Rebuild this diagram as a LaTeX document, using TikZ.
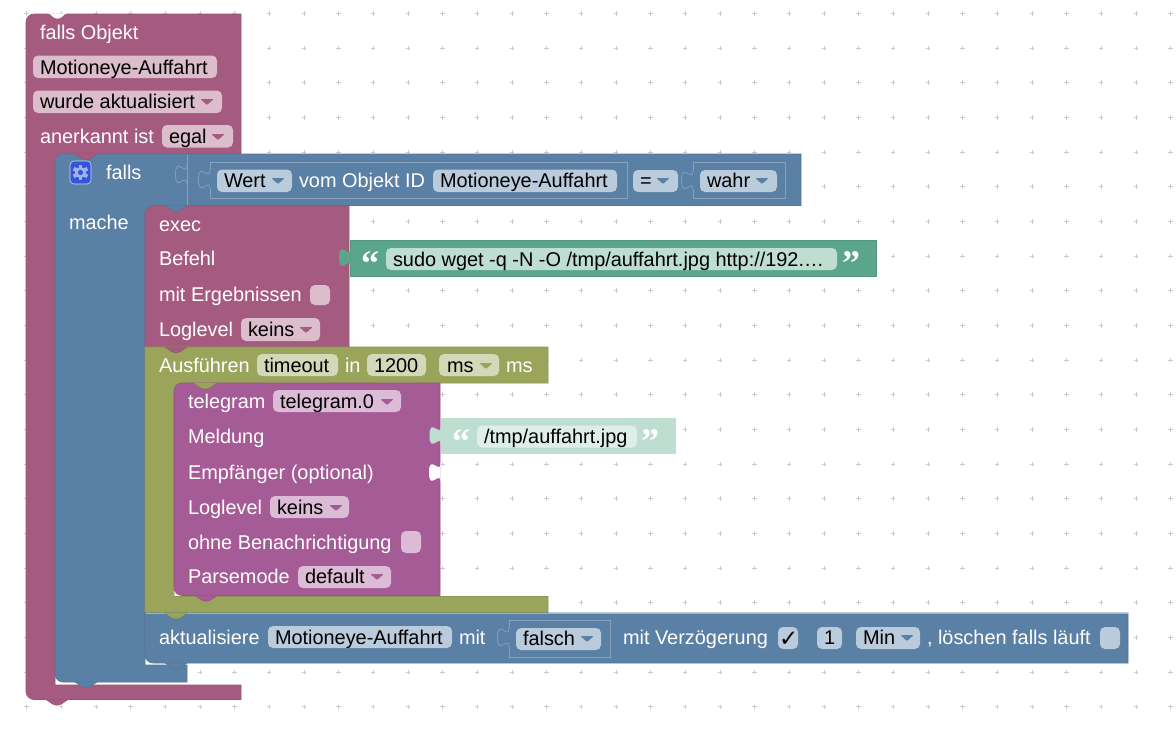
\documentclass[tikz,border=0pt]{standalone}
\usepackage{fontspec}
\setmainfont{Liberation Sans}
\newfontfamily\dejavu{DejaVu Sans}
\newfontfamily\quotefont{Liberation Serif}
\definecolor{pinkB}{HTML}{A55B80}
\definecolor{blueB}{HTML}{5B80A5}
\definecolor{oliveB}{HTML}{9AA55B}
\definecolor{purpB}{HTML}{A55B96}
\definecolor{greenB}{HTML}{5BA58C}
\definecolor{mintB}{HTML}{BEDED2}
\definecolor{pinkF}{HTML}{DBBDCC}
\definecolor{blueF}{HTML}{BACBDC}
\definecolor{oliveF}{HTML}{D3D8B8}
\definecolor{purpF}{HTML}{DBBBD5}
\definecolor{greenF}{HTML}{BEDED2}
\definecolor{mintF}{HTML}{DEEEE8}
\definecolor{gridc}{HTML}{CCCCCC}
\definecolor{iconB}{HTML}{3355DD}
\definecolor{iconG}{HTML}{A0B0E8}
\tikzset{
  lbl/.style={anchor=base west,inner sep=0pt,outer sep=0pt,white,font=\fontsize{19.9}{24}\selectfont},
  val/.style={lbl,black},
  qmark/.style={anchor=base west,inner sep=0pt,outer sep=0pt,white,font=\quotefont\bfseries\fontsize{36}{36}\selectfont},
  blockshape/.style={fill=#1,draw=#1!92!black,line width=0.6pt},
  outline/.style={draw=#1,line width=0.8pt}
}
% field box
\newcommand{\fld}[5]{\fill[#5,rounded corners=5pt] (#1,#3) rectangle (#2,#4);}
% dropdown arrow
\newcommand{\arw}[3]{\fill[#3,rounded corners=0.8pt] (#1-6.5,#2-2.8) -- (#1+6.5,#2-2.8) -- (#1,#2+3) -- cycle;}
% notch or bottom tab: x left, y edge
\newcommand{\ntch}[3]{\path[fill=#3,draw=#3!90!black,line width=0.5pt,rounded corners=1.5pt] (#1,#2) -- (#1+8,#2+5.5) -- (#1+14,#2+5.5) -- (#1+22,#2);}
\newcommand{\ntchw}[2]{\fill[white,rounded corners=1.5pt] (#1,#2-0.6) -- (#1+1,#2-0.6) -- (#1+7,#2+4.5) -- (#1+12,#2+4.5) -- (#1+18,#2-0.6) -- (#1+19,#2-0.6) -- cycle;}
% puzzle tab on left edge: x edge, y top
\newcommand{\puz}[3]{\fill[#3] (#1,#2) .. controls (#1,#2+12.7) and (#1-11.5,#2-10) .. (#1-11.5,#2+9.5) .. controls (#1-11.5,#2+29) and (#1,#2+6.3) .. (#1,#2+19) -- cycle;}
\newcommand{\puzl}[3]{\draw[#3,line width=0.8pt] (#1,#2) .. controls (#1,#2+12.7) and (#1-11.5,#2-10) .. (#1-11.5,#2+9.5) .. controls (#1-11.5,#2+29) and (#1,#2+6.3) .. (#1,#2+19);}
\begin{document}
\begin{tikzpicture}[x=1pt,y=-1pt]
\fill[white] (0,0) rectangle (1176,736);
\useasboundingbox (0,0) rectangle (1176,736);
% grid
\foreach \i in {0,...,33}{\foreach \j in {0,...,20}{
  \draw[gridc,line width=0.6pt] ({26.5+34.67*\i-2.2},{13.3+34.67*\j}) -- +(4.4,0) ({26.5+34.67*\i},{13.3+34.67*\j-2.2}) -- +(0,4.4);
}}
% main trigger block
\path[blockshape=pinkB] (26,22) arc[start angle=180,end angle=270,radius=8] -- (241,14) -- (241,154) -- (63,154)
  arc[start angle=-90,end angle=-180,radius=8] -- (55,685) -- (241,685) -- (241,699.5) -- (34,699.5)
  arc[start angle=90,end angle=180,radius=8] -- cycle;
\ntchw{48}{14}
\ntch{46}{699.5}{pinkB}
% falls block
\path[blockshape=blueB] (55,162) arc[start angle=180,end angle=270,radius=8] -- (801,154) -- (801,205.5) -- (153,205.5)
  arc[start angle=-90,end angle=-180,radius=8] -- (145,665) -- (187,665) -- (187,682) -- (63,682)
  arc[start angle=90,end angle=180,radius=8] -- cycle;
\ntch{75}{154}{pinkB}
\ntch{75}{682}{blueB}
\draw[blueF!45!blueB,line width=0.8pt] (187.5,154.5) -- (187.5,205);
\puzl{187}{165}{blueF!40!blueB}
\puzl{210}{170}{blueF!40!blueB}
\draw[outline=blueF!45!blueB] (210,170) -- (210,162) -- (627,162) -- (627,198.5) -- (210,198.5) -- (210,189);
\puzl{693}{171}{blueF!40!blueB}
\draw[outline=blueF!45!blueB] (693,171) -- (693,162) -- (785,162) -- (785,198.5) -- (693,198.5) -- (693,190);
% exec block
\path[blockshape=pinkB] (145,214) arc[start angle=180,end angle=270,radius=8] -- (349,206) -- (349,347) -- (145,347) -- cycle;
\ntch{165}{205.5}{blueB}
% execute-in block
\path[blockshape=oliveB] (145,347) -- (548,347) -- (548,383) -- (182,383)
  arc[start angle=-90,end angle=-180,radius=8] -- (174,596.5) -- (548,596.5) -- (548,613) -- (145,613) -- cycle;
\ntch{165}{347}{pinkB}
% telegram block
\path[blockshape=purpB] (174,391) arc[start angle=180,end angle=270,radius=8] -- (440,383) -- (440,595.5) -- (182,595.5)
  arc[start angle=90,end angle=180,radius=8] -- cycle;
\ntch{194}{383}{oliveB}
\ntch{195}{595.5}{purpB}
% empty input cut-out on telegram
\puz{440.5}{463}{white}
% update block
\path[blockshape=blueB] (145,613) -- (1128,613) -- (1128,663) -- (153,663)
  arc[start angle=90,end angle=180,radius=8] -- cycle;
\draw[blueF!70!blueB,line width=0.7pt] (145.5,613.5) -- (1128,613.5);
\ntch{165}{613}{oliveB}
\ntch{165}{663}{blueB}
\puzl{509}{628}{blueF!40!blueB}
\draw[outline=blueF!45!blueB] (509,628) -- (509,620.5) -- (610.5,620.5) -- (610.5,657) -- (509,657) -- (509,647);
% string blocks
\path[blockshape=greenB] (350,240.5) -- (876,240.5) -- (876,276) -- (350,276) -- cycle;
\puz{350.5}{248}{greenB}
\path[fill=mintB] (440.5,418) -- (676,418) -- (676,454) -- (440.5,454) -- cycle;
\puz{441}{426}{mintB}
% gear icon
\draw[white!70!blueB,fill=iconB,rounded corners=4pt,line width=0.6pt] (70,161) rectangle (91,184);
\fill[iconG] (80.5,172.5) circle (5.6);
\foreach \a in {0,60,...,300}{\fill[iconG,rotate around={\a:(80.5,172.5)}] (78.6,164.6) rectangle (82.4,168);}
\fill[iconB] (80.5,172.5) circle (2.6);
% fields
\fld{33}{217}{55.5}{78}{pinkF}
\fld{33}{222}{90.5}{113}{pinkF}
\fld{162}{233}{125}{147.5}{pinkF}
\fld{217}{292}{169.5}{192}{blueF}
\fld{433}{617}{169.5}{192}{blueF}
\fld{633}{678}{170}{192}{blueF}
\fld{700}{777}{170}{192}{blueF}
\fld{386}{837}{248}{270}{greenF}
\fld{310}{330}{285}{305}{pinkF}
\fld{241}{320}{318}{341}{pinkF}
\fld{257}{338}{354}{376}{oliveF}
\fld{367}{426}{354}{376}{oliveF}
\fld{439}{499}{354}{376}{oliveF}
\fld{273}{401}{390}{412}{purpF}
\fld{270}{349}{496}{518}{purpF}
\fld{401}{421}{531}{553}{purpF}
\fld{298}{391}{566}{588}{purpF}
\fld{477}{637}{425.5}{447.5}{mintF}
\fld{268}{452}{626}{648}{blueF}
\fld{516}{601}{628}{650}{blueF}
\fld{778}{798}{627}{649}{blueF}
\fld{817}{842}{627}{649}{blueF}
\fld{856}{920}{627}{649}{blueF}
\fld{1100}{1120}{627}{649}{blueF}
% dropdown arrows
\arw{207}{102}{pinkB}
\arw{218}{137}{pinkB}
\arw{278}{181}{blueB}
\arw{663}{181}{blueB}
\arw{762}{181}{blueB}
\arw{306}{330}{pinkB}
\arw{486}{366}{oliveB}
\arw{387}{402}{purpB}
\arw{336}{508}{purpB}
\arw{377}{577}{purpB}
\arw{587}{639}{blueB}
\arw{907}{638}{blueB}
% texts
\node[lbl] (t1) at (40,39) {falls Objekt};
\node[val] (t2) at (40,74) {Motioneye-Auffahrt};
\node[val] (t3) at (40,108.5) {wurde aktualisiert};
\node[lbl] (t4) at (40,143) {anerkannt ist};
\node[val] (t5) at (169,143) {egal};
\node[lbl] (t6) at (106,179) {falls};
\node[lbl] (t7) at (69,229) {mache};
\node[val] (t8) at (224,187) {Wert};
\node[lbl] (t9) at (299,187) {vom Objekt ID};
\node[val] (t10) at (440,187) {Motioneye-Auffahrt};
\node[val] (t11) at (640,187) {=};
\node[val] (t12) at (707,187) {wahr};
\node[lbl] (t13) at (159,231) {exec};
\node[lbl] (t14) at (159,265) {Befehl};
\node[lbl] (t15) at (159,301) {mit Ergebnissen};
\node[lbl] (t16) at (159,336) {Loglevel};
\node[val] (t17) at (248,336) {keins};
\node[qmark] (q1) at (361,275) {“};
\node[val] (t18) at (393,266) {sudo wget -q -N -O /tmp/auffahrt.jpg http://192.…};
\node[qmark] (q2) at (842,275) {”};
\node[lbl] (t19) at (159,372) {Ausführen};
\node[val] (t20) at (264,372) {timeout};
\node[lbl] (t21) at (345,372) {in};
\node[val] (t22) at (374,372) {1200};
\node[val] (t23) at (447,372) {ms};
\node[lbl] (t24) at (506,372) {ms};
\node[lbl] (t25) at (188,408) {telegram};
\node[val] (t26) at (280,408) {telegram.0};
\node[lbl] (t27) at (188,443) {Meldung};
\node[lbl] (t28) at (188,479) {Empfänger (optional)};
\node[lbl] (t29) at (188,514) {Loglevel};
\node[val] (t30) at (277,514) {keins};
\node[lbl] (t31) at (188,549) {ohne Benachrichtigung};
\node[lbl] (t32) at (188,583) {Parsemode};
\node[val] (t33) at (305,583) {default};
\node[qmark] (q3) at (452,453) {“};
\node[val] (t34) at (484,443) {/tmp/auffahrt.jpg};
\node[qmark] (q4) at (641,453) {”};
\node[lbl] (t35) at (159,644) {aktualisiere};
\node[val] (t36) at (275,644) {Motioneye-Auffahrt};
\node[lbl] (t37) at (459,644) {mit};
\node[val] (t38) at (523,645) {falsch};
\node[lbl] (t39) at (623,644) {mit Verzögerung};
\node[val,font=\dejavu\bfseries\fontsize{23}{24}\selectfont] (t40) at (779,646) {✓};
\node[val] (t41) at (824,644) {1};
\node[val] (t42) at (863,644) {Min};
\node[lbl] (t43) at (927,644) {, löschen falls läuft};
\end{tikzpicture}
\end{document}
